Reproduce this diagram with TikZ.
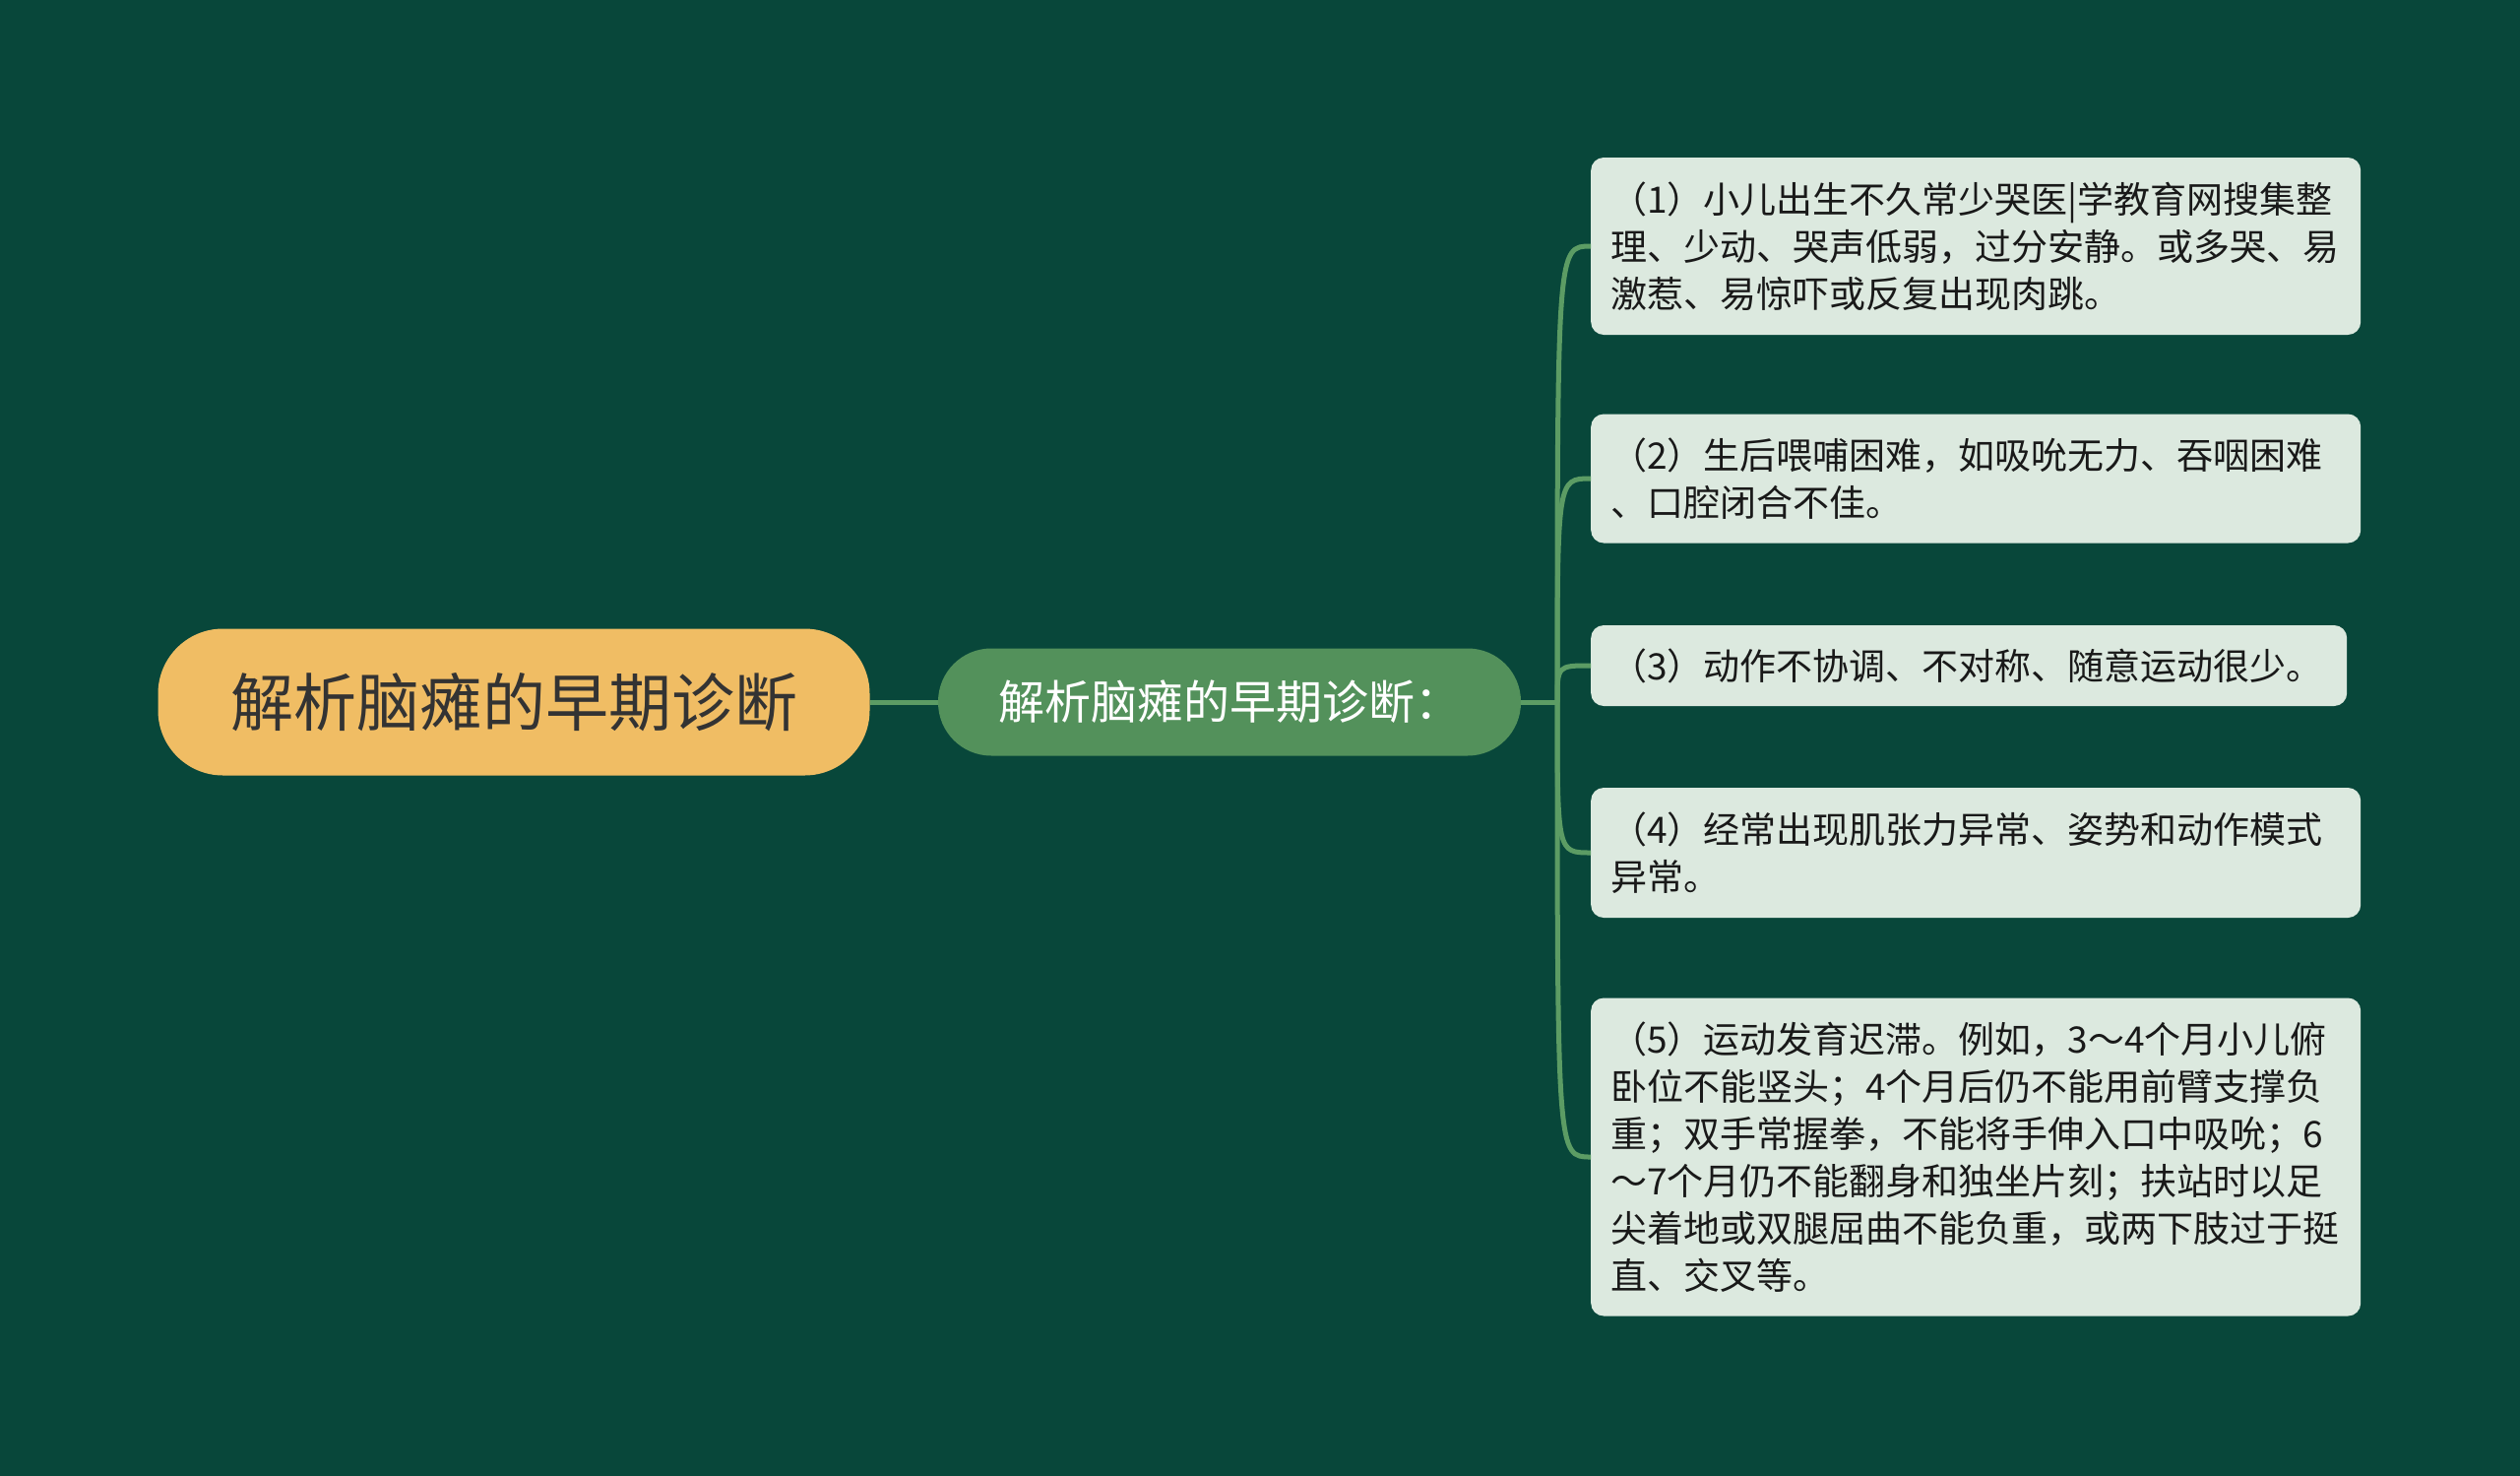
\documentclass[tikz,border=0pt]{standalone}
\usepackage{fontspec}
\setmainfont{Noto Sans CJK SC}
\usepackage{tikz}

\definecolor{bgcol}{HTML}{08473A}
\definecolor{rootcol}{HTML}{F0BD64}
\definecolor{subcol}{HTML}{53915B}
\definecolor{leafcol}{HTML}{DCE9DF}
\definecolor{linkcol}{HTML}{5C9C64}

\tikzset{
  rootnode/.style={fill=rootcol, text=black!80, rounded corners=66pt,
    minimum width=723pt, minimum height=149pt, inner sep=0pt,
    font=\fontsize{64}{70}\selectfont},
  subnode/.style={fill=subcol, text=white, rounded corners=54pt,
    minimum width=592pt, minimum height=109pt, inner sep=0pt,
    font=\fontsize{47}{52}\selectfont},
  leaf/.style={fill=leafcol, text=black!90, rounded corners=13pt, anchor=west,
    align=left, text width=742pt, inner xsep=20pt, inner ysep=8pt,
    font=\fontsize{37}{48}\selectfont},
  link/.style={draw=linkcol, line width=5pt}
}

\begin{document}
\begin{tikzpicture}[x=1pt,y=1pt]
\fill [bgcol] (0,0) rectangle (2560,-1499);
\useasboundingbox (0,0) rectangle (2560,-1499);
% main topic and subtopic
\node [rootnode] (root) at (522,-713) {解析脑瘫的早期诊断};
\node [subnode] (sub) at (1249,-713) {解析脑瘫的早期诊断：};
\coordinate (fork) at (1582,-713);
% items
\node [leaf, minimum height=180pt] (l1) at (1616,-250)
  {（1）小儿出生不久常少哭医|学教育网搜集整\\理、少动、哭声低弱，过分安静。或多哭、易\\激惹、易惊吓或反复出现肉跳。};
\node [leaf, minimum height=131pt] (l2) at (1616,-486)
  {（2）生后喂哺困难，如吸吮无力、吞咽困难\\、口腔闭合不佳。};
\node [leaf, minimum height=82pt, text width=728pt] (l3) at (1616,-676)
  {（3）动作不协调、不对称、随意运动很少。};
\node [leaf, minimum height=132pt] (l4) at (1616,-866)
  {（4）经常出现肌张力异常、姿势和动作模式\\异常。};
\node [leaf, minimum height=323pt] (l5) at (1616,-1175)
  {（5）运动发育迟滞。例如，3～4个月小儿俯\\卧位不能竖头；4个月后仍不能用前臂支撑负\\重；双手常握拳，不能将手伸入口中吸吮；6\\～7个月仍不能翻身和独坐片刻；扶站时以足\\尖着地或双腿屈曲不能负重，或两下肢过于挺\\直、交叉等。};
% connectors
\draw [link] (root) -- (sub);
\draw [link] (sub.east) -- (fork);
\foreach \n in {l1,l2,l3,l4,l5}
  \draw [link] (fork) .. controls (fork |- \n.west) .. (\n.west);
\end{tikzpicture}
\end{document}
